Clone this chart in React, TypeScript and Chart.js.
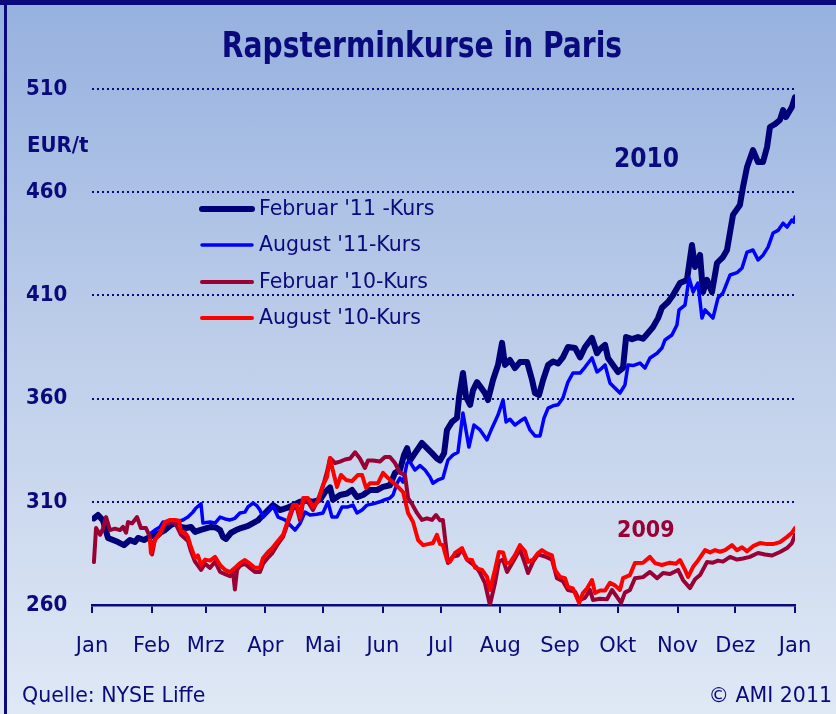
import React, { useEffect, useRef } from "react";
import { Chart, registerables } from "chart.js";

Chart.register(...registerables);

const NAVY = "#0a0a7c";
const COND = "'DejaVu Sans Condensed', 'DejaVu Sans', sans-serif";
const SANS = "'DejaVu Sans', 'Noto Sans', sans-serif";

const titleText = "Rapsterminkurse in Paris";
const unitText = "EUR/t";
const sourceText = "Quelle: NYSE Liffe";
const copyrightText = "© AMI 2011";
const yearLabels = ["2010", "2009"];

const monthLabels = ["Jan", "Feb", "Mrz", "Apr", "Mai", "Jun", "Jul", "Aug", "Sep", "Okt", "Nov", "Dez", "Jan"];
const monthStartDays = [0, 31, 59, 90, 120, 151, 181, 212, 243, 273, 304, 334, 365];
const yTickValues = [260, 310, 360, 410, 460, 510];

const seriesLabels = ["Februar '11 -Kurs", "August '11-Kurs", "Februar '10-Kurs", "August '10-Kurs"];

const feb11Days = [1.0, 3.1, 5.7, 8.3, 10.9, 13.5, 16.6, 19.7, 22.3, 23.9, 27.0, 30.1, 32.7, 35.3, 37.9, 41.0, 43.6, 46.2, 48.8, 51.4, 53.5, 56.1, 58.7, 61.8, 64.4, 66.5, 68.0, 69.6, 72.2, 74.8, 77.4, 81.0, 83.6, 86.2, 88.8, 91.4, 94.0, 97.6, 101.2, 104.4, 108.0, 111.6, 114.7, 118.4, 121.0, 123.6, 125.1, 128.8, 132.4, 135.0, 137.6, 140.7, 144.3, 148.0, 151.1, 154.7, 157.3, 159.9, 162.0, 163.6, 165.1, 167.7, 171.3, 173.9, 176.5, 179.1, 180.7, 182.8, 184.3, 186.9, 189.5, 190.6, 192.6, 194.2, 196.3, 197.8, 199.9, 201.5, 204.0, 205.6, 208.2, 210.8, 212.9, 214.4, 217.0, 219.6, 222.2, 225.9, 228.5, 230.0, 232.1, 234.2, 236.8, 239.4, 242.0, 244.5, 247.1, 250.8, 253.4, 256.0, 259.6, 262.2, 263.8, 266.4, 267.9, 270.5, 273.1, 275.7, 277.3, 280.4, 283.5, 286.1, 288.7, 291.3, 293.9, 295.9, 299.1, 301.7, 305.3, 308.9, 311.5, 313.1, 315.7, 317.2, 319.3, 321.9, 324.5, 327.6, 329.7, 332.8, 336.4, 338.0, 340.1, 343.2, 345.8, 348.4, 350.5, 352.0, 354.6, 357.2, 358.8, 360.3, 363.4, 365.0];
const feb11Values = [302, 303.6, 301, 292.5, 291.5, 290.5, 289, 291.5, 290.5, 292.5, 291.5, 293, 294, 295, 296.3, 298.8, 299.7, 297.8, 297.3, 297.8, 295.4, 296.3, 297, 297.8, 297.5, 296.3, 293, 292, 295, 296.3, 297.3, 298.3, 299.7, 301, 303.6, 306, 308.4, 306, 307, 308.4, 310, 310.5, 310, 311, 314.7, 317, 311, 313.3, 314, 315.7, 312.3, 313.3, 315.7, 315.7, 317.2, 318, 324, 325.4, 332.7, 336, 330, 333.6, 338.5, 336, 333.6, 331, 330, 333.5, 344.8, 348.7, 350.6, 360.8, 372.4, 360.8, 357, 364, 368, 366, 362.7, 359.3, 369, 376.3, 387, 376.3, 378.7, 374.8, 377.7, 377.7, 369, 362.7, 361.7, 369, 376.3, 378, 377, 380, 385, 384.5, 380, 385, 389.4, 382, 384, 386, 379.7, 376.3, 372.9, 374.9, 389.8, 388.8, 389.8, 389, 391.8, 394.7, 399, 404, 406.8, 410.2, 416, 417.5, 434.4, 423.8, 429.6, 411.6, 417.5, 411.6, 425.7, 428.6, 432, 449, 453.8, 462.5, 472.2, 480.4, 474.6, 474.6, 481.9, 491.6, 493, 495, 499.8, 496.4, 501.3, 506];

const aug11Days = [30.1, 32.7, 35.3, 36.9, 40.5, 43.6, 47.2, 49.8, 52.4, 54.0, 56.6, 57.6, 61.3, 63.9, 66.5, 69.1, 71.7, 74.2, 76.8, 79.4, 81.0, 83.6, 85.7, 87.2, 88.8, 91.4, 94.0, 96.6, 100.2, 102.8, 105.4, 108.0, 110.6, 113.2, 116.8, 119.9, 122.5, 124.6, 127.2, 129.8, 132.9, 135.5, 137.6, 140.2, 142.8, 145.9, 149.5, 152.1, 154.7, 156.3, 158.4, 159.9, 161.5, 163.6, 165.1, 167.7, 170.3, 172.9, 175.5, 177.0, 179.6, 182.2, 184.8, 187.4, 190.0, 192.6, 195.7, 198.3, 201.5, 205.1, 207.7, 210.8, 213.4, 215.0, 217.0, 219.6, 222.2, 224.8, 227.4, 230.0, 232.6, 234.7, 236.8, 239.4, 242.0, 244.5, 247.1, 249.7, 253.4, 256.0, 259.6, 262.2, 263.8, 266.4, 268.9, 271.5, 274.1, 276.7, 278.3, 280.9, 284.5, 287.1, 289.7, 293.4, 295.9, 297.5, 301.1, 303.7, 304.8, 307.9, 310.0, 312.1, 314.6, 316.7, 318.3, 322.4, 325.0, 327.6, 331.3, 334.9, 337.5, 340.1, 343.2, 345.8, 348.4, 351.0, 353.6, 356.2, 358.8, 360.9, 363.4, 364.5, 365.0];
const aug11Values = [294.4, 296.3, 297.8, 300.2, 299.7, 300.2, 301.2, 302.6, 305, 307, 309, 299.7, 300.2, 299.7, 302.6, 301.7, 301.2, 302, 304.6, 305, 307.5, 309.4, 308, 306, 302.5, 305, 308, 302.6, 301.2, 298.8, 296.3, 299.5, 305, 303.6, 304, 304.6, 310, 302.6, 302.6, 307.5, 307.5, 308.4, 304.6, 306, 308.4, 309, 310, 311, 311.8, 313.3, 319, 321.5, 319.5, 328.8, 329.3, 325.4, 327.5, 325.4, 322, 319, 320.6, 321.5, 330.2, 332.7, 334, 353, 336.5, 347.2, 344.8, 340, 345.8, 352, 359.3, 348.7, 350, 347.2, 349, 350.6, 344.8, 341.9, 341.9, 350.6, 355.4, 356.5, 357, 360.3, 368, 372.4, 372.4, 375.3, 379.7, 372.9, 374, 376.3, 367.6, 365.1, 362.7, 366.6, 376.3, 376, 377.2, 374.8, 379.7, 382, 384.5, 388.4, 390.8, 395.7, 403, 405.3, 418.4, 411.6, 416, 399, 403, 399, 408.7, 411.2, 419.9, 421, 423.3, 431, 432, 427.2, 429.5, 433.4, 440.2, 441.5, 445, 443.1, 446.5, 445.5, 448];

const feb10Days = [1.0, 2.1, 4.2, 5.7, 7.3, 9.3, 11.9, 14.5, 16.1, 17.7, 18.7, 20.8, 23.4, 25.4, 28.0, 30.1, 31.2, 32.7, 35.3, 37.9, 40.5, 43.1, 46.2, 49.8, 51.4, 53.5, 56.6, 58.7, 61.3, 63.9, 66.5, 69.1, 71.7, 73.2, 74.2, 75.3, 76.8, 79.4, 82.0, 84.6, 87.2, 88.8, 91.4, 93.5, 96.1, 99.2, 101.8, 104.4, 106.4, 108.0, 109.6, 112.1, 114.7, 117.3, 119.9, 122.0, 123.6, 126.2, 128.8, 131.4, 134.0, 136.6, 139.1, 141.7, 143.3, 145.9, 149.5, 152.1, 154.7, 157.3, 159.9, 162.5, 164.1, 166.1, 168.7, 171.3, 173.9, 176.5, 178.6, 180.7, 182.2, 184.8, 187.4, 190.0, 192.1, 194.7, 197.3, 199.4, 201.5, 204.0, 206.6, 209.2, 211.3, 213.4, 215.5, 218.6, 222.2, 224.8, 226.4, 229.0, 231.6, 235.2, 238.8, 241.4, 244.5, 247.1, 250.8, 252.9, 256.0, 258.6, 260.1, 263.8, 267.4, 270.0, 272.1, 274.7, 276.7, 279.3, 281.9, 286.1, 289.7, 293.4, 296.5, 300.1, 304.3, 306.9, 310.5, 313.1, 315.7, 319.3, 322.4, 325.0, 327.6, 331.3, 334.9, 338.0, 341.6, 345.8, 349.4, 353.1, 357.2, 360.9, 363.4, 365.0];
const feb10Values = [280.8, 297.3, 294, 297, 302.6, 296.3, 297, 296.3, 297.8, 295, 300.2, 299.5, 302.6, 297.3, 297.3, 293, 284.5, 292, 294, 299, 300, 300, 294, 291, 286, 281, 277, 280, 278, 281, 276, 275, 274, 276, 267.5, 277, 279, 280, 278, 276, 276, 280, 283, 285, 289, 293, 300, 307, 307, 301, 310, 310, 306, 311, 317.5, 324.5, 331.2, 328.8, 329.5, 330.5, 331, 334, 331, 326.4, 330, 330, 329.5, 331.7, 331.7, 328.8, 324, 323, 311.8, 309, 304.6, 301.2, 302, 301.2, 303.6, 301, 301.2, 280.3, 283.5, 284, 287, 282, 280, 278.5, 275.5, 270.7, 260, 270.5, 281, 282, 276, 281, 287, 280, 275.5, 281, 284.5, 283.5, 282, 273, 271.5, 267.3, 266.5, 262.4, 263.5, 267.3, 262.4, 263, 262.8, 267.3, 264.5, 261, 266, 267.3, 273, 273.5, 276, 273, 275.5, 275, 277, 272, 268.2, 272.5, 274.5, 280.8, 280.5, 281.5, 281, 283.3, 282, 282.5, 283.3, 285.2, 284.5, 284, 285.7, 287.6, 290, 294];

const aug10Days = [30.1, 30.6, 32.7, 35.3, 37.9, 40.5, 43.1, 45.2, 46.2, 48.3, 49.8, 51.4, 53.5, 55.0, 56.6, 58.7, 61.3, 63.9, 66.5, 69.1, 71.7, 74.2, 76.8, 79.4, 82.0, 84.6, 87.2, 88.8, 91.4, 93.5, 96.1, 99.2, 101.8, 104.4, 106.4, 108.0, 109.6, 112.1, 114.7, 117.3, 119.9, 122.0, 123.6, 125.1, 127.2, 129.3, 131.9, 135.0, 138.1, 140.2, 142.3, 144.3, 148.5, 151.1, 153.7, 156.3, 158.9, 161.5, 162.5, 164.1, 166.7, 169.3, 171.9, 174.5, 177.0, 179.1, 180.7, 182.2, 184.3, 185.9, 188.5, 192.1, 194.7, 197.3, 198.9, 202.5, 205.1, 206.6, 209.2, 211.3, 213.4, 215.0, 217.0, 219.6, 222.2, 224.8, 226.4, 229.0, 231.6, 233.6, 236.2, 238.8, 240.4, 243.0, 245.6, 247.1, 249.7, 252.9, 254.9, 257.0, 259.6, 261.2, 263.8, 266.4, 268.9, 271.5, 274.1, 275.7, 279.3, 281.9, 286.1, 289.7, 292.3, 295.9, 300.1, 303.2, 305.3, 307.9, 309.5, 312.1, 314.6, 318.3, 320.9, 323.5, 326.1, 328.7, 332.3, 334.9, 337.5, 340.1, 343.2, 346.8, 350.5, 353.6, 357.2, 360.9, 363.4, 365.0];
const aug10Values = [291.5, 285.2, 291.5, 295, 300.2, 301.2, 301.2, 300.8, 295.4, 295, 293, 288, 282.8, 284, 279.4, 282, 281.5, 283.3, 279.4, 277, 276, 278, 280.3, 281.8, 280, 278, 278, 282.8, 285.7, 287.5, 290.5, 294, 301.2, 308.4, 308.4, 302.6, 311.8, 311.8, 307.5, 310, 318.1, 322, 331.2, 325, 317.2, 323, 320.6, 320, 323, 323, 316.7, 319, 319, 324, 321.5, 319.5, 317.2, 314.7, 310.9, 304.6, 300.2, 291.5, 289, 289.5, 290, 294, 289.5, 289, 281.8, 281, 285.2, 287.6, 282, 281.8, 278, 277, 273.6, 267.3, 277, 285.7, 285.5, 280.3, 280.5, 284.2, 289, 286, 280.8, 282, 285.2, 286.6, 285, 284, 277, 273.6, 273, 268.7, 268, 261, 265.8, 268, 272.1, 265.8, 267, 267, 270.7, 269.5, 267.3, 273, 274.5, 280.3, 280.5, 283.3, 280.3, 279.4, 280.5, 280, 281.8, 277, 273.6, 278.5, 281.5, 286.6, 285.5, 286.6, 285.8, 286.6, 289, 286.5, 288, 286, 288.5, 290, 289.5, 289.5, 290.5, 293, 295, 297.3];

function toPoints(days: number[], values: number[]) {
  return days.map((d, i) => ({ x: d, y: values[i] }));
}

const decorPlugin = {
  id: "decor",
  afterDraw(chart: any) {
    const ctx = chart.ctx as CanvasRenderingContext2D;
    ctx.save();
    ctx.textBaseline = "middle";
    // title (horizontally condensed)
    ctx.fillStyle = NAVY;
    ctx.textAlign = "center";
    ctx.font = `bold 36px ${COND}`;
    ctx.save();
    ctx.translate(422, 48);
    ctx.scale(0.87, 1);
    ctx.fillText(titleText, 0, 0);
    ctx.restore();
    // unit
    ctx.textAlign = "left";
    ctx.font = `bold 22px ${COND}`;
    ctx.fillText(unitText, 27, 146);
    // year labels
    ctx.font = `bold 26px ${COND}`;
    ctx.fillText(yearLabels[0], 614, 160);
    ctx.fillStyle = "#990033";
    ctx.font = `bold 23px ${COND}`;
    ctx.fillText(yearLabels[1], 617, 531);
    // legend
    const rows = [209, 245, 282, 318];
    chart.data.datasets.forEach((ds: any, i: number) => {
      const y = rows[i];
      ctx.strokeStyle = ds.borderColor;
      ctx.lineWidth = ds.borderWidth;
      ctx.lineCap = "round";
      ctx.beginPath();
      ctx.moveTo(202, y);
      ctx.lineTo(252, y);
      ctx.stroke();
      ctx.fillStyle = NAVY;
      ctx.font = `20.5px ${SANS}`;
      ctx.fillText(ds.label, 259, y + 1);
    });
    // footer
    ctx.fillStyle = NAVY;
    ctx.font = `20.5px ${SANS}`;
    ctx.textAlign = "left";
    ctx.fillText(sourceText, 22, 697);
    ctx.textAlign = "right";
    ctx.fillText(copyrightText, 832, 697);
    ctx.restore();
  },
};

export default function App() {
  const ref = useRef<HTMLCanvasElement>(null);
  useEffect(() => {
    if (!ref.current) return;
    const chart = new Chart(ref.current, {
      type: "line",
      data: {
        datasets: [
          { label: seriesLabels[0], data: toPoints(feb11Days, feb11Values), borderColor: "#000078", borderWidth: 6, order: 3 },
          { label: seriesLabels[1], data: toPoints(aug11Days, aug11Values), borderColor: "#0000ff", borderWidth: 3.5, order: 2 },
          { label: seriesLabels[2], data: toPoints(feb10Days, feb10Values), borderColor: "#990033", borderWidth: 4, order: 1 },
          { label: seriesLabels[3], data: toPoints(aug10Days, aug10Values), borderColor: "#ff0000", borderWidth: 4, order: 0 },
        ] as any,
      },
      options: {
        responsive: false,
        animation: false,
        devicePixelRatio: 1,
        layout: { padding: { left: 26, right: 41, top: 89, bottom: 44 } },
        elements: {
          point: { radius: 0 },
          line: { tension: 0, borderJoinStyle: "round", borderCapStyle: "round", fill: false },
        },
        plugins: { legend: { display: false }, tooltip: { enabled: false }, title: { display: false } },
        scales: {
          x: {
            type: "linear",
            min: 0,
            max: 365,
            afterBuildTicks: (s: any) => {
              s.ticks = monthStartDays.map((v) => ({ value: v }));
            },
            afterFit: (s: any) => {
              s.height = 65;
            },
            ticks: {
              callback: (_v: any, i: number) => monthLabels[i],
              color: NAVY,
              font: { family: SANS, size: 21 },
              maxRotation: 0,
              autoSkip: false,
              padding: 21,
            },
            grid: { drawOnChartArea: false, drawTicks: true, tickLength: 8, color: NAVY, lineWidth: 2 },
            border: { display: true, color: NAVY, width: 2.5 },
          },
          y: {
            min: 260,
            max: 510,
            afterBuildTicks: (s: any) => {
              s.ticks = yTickValues.map((v) => ({ value: v }));
            },
            afterFit: (s: any) => {
              s.width = 66;
            },
            ticks: {
              color: NAVY,
              font: { family: COND, size: 22, weight: "bold" },
              crossAlign: "far",
              padding: 0,
            },
            grid: {
              drawTicks: false,
              lineWidth: 2,
              color: (c: any) => (c.tick && c.tick.value === 260 ? "rgba(0,0,0,0)" : NAVY),
            },
            border: { display: false, dash: [2, 3] },
          },
        },
      } as any,
      plugins: [decorPlugin],
    });
    return () => chart.destroy();
  }, []);

  return (
    <div
      style={{
        position: "fixed",
        left: 0,
        top: 0,
        width: 836,
        height: 714,
        overflow: "hidden",
        background: "linear-gradient(180deg, #96b1df 0%, #bfcfea 50%, #dfe8f5 100%)",
      }}
    >
      <div style={{ position: "absolute", left: 0, top: 0, width: 836, height: 5, background: NAVY }} />
      <div style={{ position: "absolute", left: 4, top: 0, width: 3, height: 714, background: NAVY }} />
      <canvas ref={ref} width={836} height={714} style={{ position: "absolute", left: 0, top: 0 }} />
    </div>
  );
}
